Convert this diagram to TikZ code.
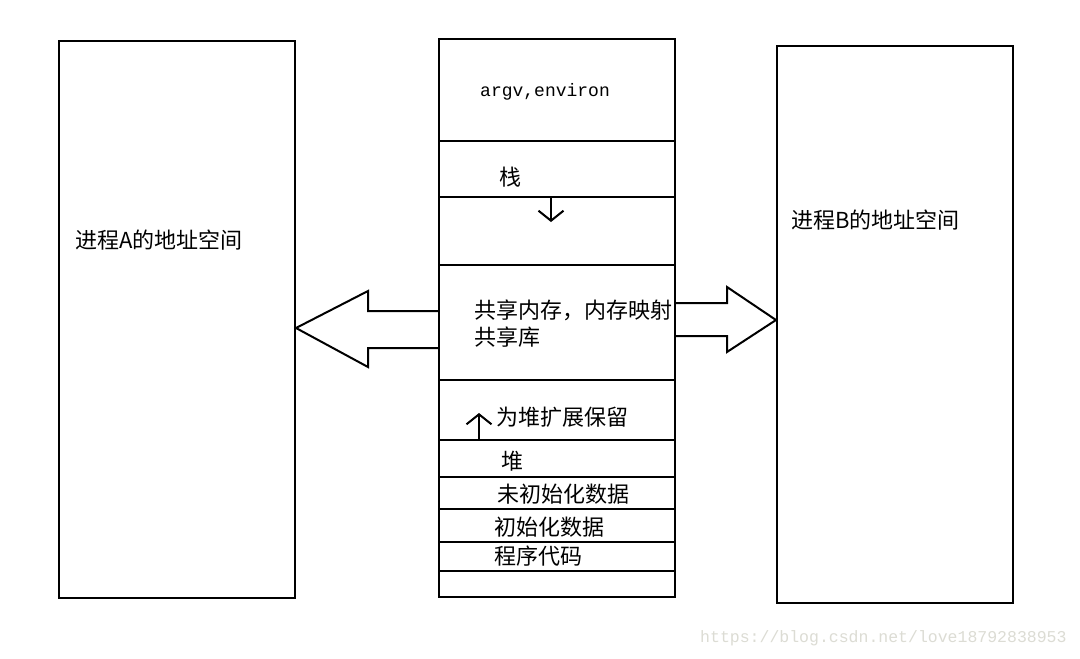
\documentclass[tikz,border=0pt]{standalone}
\usepackage{fontspec}
\usetikzlibrary{arrows.meta, positioning, calc}
\newfontfamily\cjkfont{Noto Sans CJK SC}
\newfontfamily\monofont{Liberation Mono}
\definecolor{lineBlack}{HTML}{000000}
\definecolor{markGray}{HTML}{DCDCD4}
\tikzset{
  panel/.style={rectangle, draw=lineBlack, line width=2pt, inner sep=0pt},
  divider/.style={draw=lineBlack, line width=2pt},
  txtCJK/.style={anchor=west, inner sep=0pt, font=\cjkfont\fontsize{22}{26}\selectfont},
  txtMono/.style={anchor=west, inner sep=0pt, font=\monofont\fontsize{18}{22}\selectfont},
  bigArrow/.style={draw=lineBlack, line width=2pt, line join=miter},
  growArrow/.style={-{Straight Barb[length=10pt, width=25pt]}, draw=lineBlack, line width=2pt},
}

\begin{document}
\begin{tikzpicture}[x=1pt, y=-1pt]
    \useasboundingbox[fill=white] (0,0) rectangle (1080,659);
    % the three address spaces
    \node[panel, minimum width=236pt, minimum height=557pt] (procA) at (177,319.5) {};
    \node[panel, minimum width=236pt, minimum height=558pt] (midBox) at (557,318) {};
    \node[panel, minimum width=236pt, minimum height=557pt] (procB) at (895,324.5) {};
    % segments of the middle space
    \foreach \y in {141,197,265,380,440,477,509,542,571}
      \draw[divider] (midBox.west |- 0,\y) -- (midBox.east |- 0,\y);
    \node[txtCJK] (nameA) at (75,240) {进程A的地址空间};
    \node[txtCJK] (nameB) at (791,220) {进程B的地址空间};
    \node[txtMono] (args) at (480,92) {argv,environ};
    \node[txtCJK] (stack) at (499,177) {栈};
    \node[txtCJK] (shmem) at (474,310) {共享内存，内存映射};
    \node[txtCJK, below=6pt of shmem.south west, anchor=north west] (shlib) {共享库};
    \node[txtCJK] (reserve) at (496,417) {为堆扩展保留};
    \node[txtCJK] (heap) at (501,461) {堆};
    \node[txtCJK] (bss) at (497,494) {未初始化数据};
    \node[txtCJK] (data) at (494,527) {初始化数据};
    \node[txtCJK] (text) at (494,556) {程序代码};
    % growth directions
    \coordinate (stackFrom) at (551,197);
    \coordinate (stackTo) at (551,222);
    \coordinate (heapFrom) at (479,440);
    \coordinate (heapTo) at (479,413);
    \draw[growArrow] (stackFrom) -- (stackTo);
    \draw[growArrow] (heapFrom) -- (heapTo);
    % mapping into both processes
    \draw[bigArrow] (midBox.west |- 0,311) -- (368,311) -- (368,291)
      -- (procA.east |- 0,328) -- (368,367) -- (368,348) -- (midBox.west |- 0,348);
    \draw[bigArrow] (midBox.east |- 0,303) -- (727,303) -- (727,287)
      -- (procB.west |- 0,320) -- (727,352) -- (727,336) -- (midBox.east |- 0,336);
    \node[anchor=west, inner sep=0pt, text=markGray,
          font=\monofont\fontsize{16.5}{20}\selectfont] (mark) at (700,638)
      {https://blog.csdn.net/love18792838953};
\end{tikzpicture}
\end{document}
